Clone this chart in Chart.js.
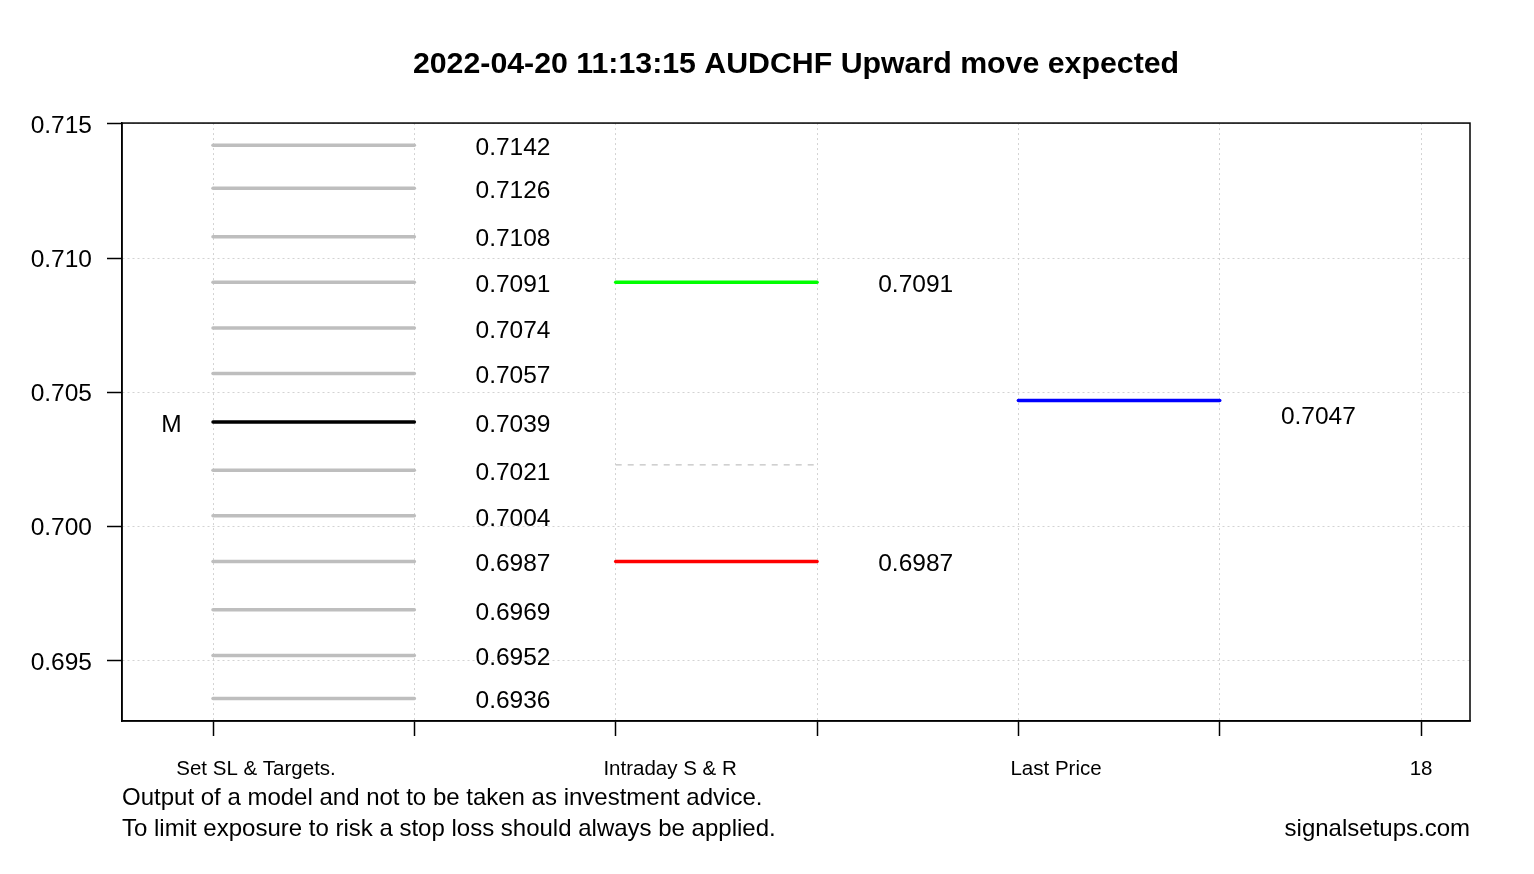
<!DOCTYPE html>
<html><head><meta charset="utf-8">
<script src="https://cdn.jsdelivr.net/npm/chart.js@4.4.1/dist/chart.umd.min.js"></script>
<style>html,body{margin:0;padding:0;background:#fff;} canvas{display:block;}</style>
</head><body>
<canvas id="c" width="1534" height="874"></canvas>
<script>
// ---------- data ----------
const titleText = "2022-04-20 11:13:15 AUDCHF Upward move expected";
const targetLevels = [0.7142, 0.7126, 0.7108, 0.7091, 0.7074, 0.7057, 0.7039, 0.7021, 0.7004, 0.6987, 0.6969, 0.6952, 0.6936];
const targetLabels = ["0.7142", "0.7126", "0.7108", "0.7091", "0.7074", "0.7057", "0.7039", "0.7021", "0.7004", "0.6987", "0.6969", "0.6952", "0.6936"];
const midLevelIndex = 6;
const midMarker = "M";
const resistanceLevel = 0.7091;
const supportLevel = 0.6987;
const pivotLevel = 0.7023;
const lastPrice = 0.7047;
const groupNames = ["Set SL & Targets.", "Intraday S & R", "Last Price", "18"];
const groupLabelAt = [1.2136, 3.27, 5.187, 7];
const groupStart = [1, 3, 5];
const xTickValues = [1, 2, 3, 4, 5, 6, 7];
const yTickValues = [0.695, 0.700, 0.705, 0.710, 0.715];
const xRange = [0.548, 7.243];
const yRange = [0.69276, 0.71503];
const footerLines = ["Output of a model and not to be taken as investment advice.", "To limit exposure to risk a stop loss should always be applied."];
const siteText = "signalsetups.com";

// ---------- styling ----------
const FONT = "'Liberation Sans', Arial, Helvetica, sans-serif";
Chart.defaults.font.family = FONT;
Chart.defaults.color = '#000';

function seg(x0, v, color, label, extra) {
  return Object.assign({
    data: [{x: x0, y: v}, {x: x0 + 1, y: v}],
    borderColor: color,
    backgroundColor: color,
    borderWidth: 3.5,
    borderCapStyle: 'round',
    pointRadius: 0,
    fill: false,
    tension: 0,
    xAxisID: 'x', yAxisID: 'y',
    valueLabel: label,
    labelShift: 3
  }, extra || {});
}

const datasets = [];
targetLevels.forEach((v, i) => {
  datasets.push(seg(groupStart[0], v, i === midLevelIndex ? '#000000' : '#bebebe', targetLabels[i],
    i === midLevelIndex ? {marker: midMarker} : {}));
});
datasets.push(seg(groupStart[1], resistanceLevel, '#00ff00', resistanceLevel.toFixed(4)));
datasets.push(seg(groupStart[1], supportLevel, '#ff0000', supportLevel.toFixed(4)));
datasets.push(seg(groupStart[1], pivotLevel, '#c4c4c4', null, {borderWidth: 1.3, borderDash: [6, 6], borderCapStyle: 'butt'}));
datasets.push(seg(groupStart[2], lastPrice, '#0000ff', lastPrice.toFixed(4), {labelShift: 17}));

const textPlugin = {
  id: 'textPlugin',
  afterDatasetsDraw(chart) {
    const ctx = chart.ctx, xs = chart.scales.x, ys = chart.scales.y, a = chart.chartArea;
    ctx.save();
    ctx.fillStyle = '#000';
    ctx.font = '24.5px ' + FONT;
    ctx.textAlign = 'center';
    ctx.textBaseline = 'middle';
    chart.data.datasets.forEach(ds => {
      const yv = ds.data[0].y;
      const py = ys.getPixelForValue(yv) + ds.labelShift;
      if (ds.valueLabel) {
        ctx.fillText(ds.valueLabel, xs.getPixelForValue(ds.data[1].x + 0.49), py);
      }
      if (ds.marker) {
        ctx.fillText(ds.marker, xs.getPixelForValue(ds.data[0].x - 0.206), py);
      }
    });
    // plot frame
    ctx.strokeStyle = '#000';
    ctx.lineWidth = 1.5;
    ctx.strokeRect(a.left, a.top, a.right - a.left, a.bottom - a.top);
    // footer
    ctx.font = '24px ' + FONT;
    ctx.textBaseline = 'alphabetic';
    ctx.textAlign = 'left';
    ctx.fillText(footerLines[0], a.left, 805);
    ctx.fillText(footerLines[1], a.left, 836);
    ctx.textAlign = 'right';
    ctx.fillText(siteText, a.right, 836);
    ctx.restore();
  }
};

const gridStyle = {color: '#d3d3d3', lineWidth: 1, tickColor: '#000', tickLength: 15, tickWidth: 1.5, drawTicks: true};

new Chart(document.getElementById('c'), {
  type: 'line',
  data: {datasets},
  options: {
    responsive: false,
    animation: false,
    devicePixelRatio: 1,
    layout: {padding: {left: 0, right: 64, top: 0, bottom: 0}},
    plugins: {
      legend: {display: false},
      tooltip: {enabled: false},
      title: {display: true, text: titleText, color: '#000', fullSize: false,
        font: {family: FONT, size: 30.3, weight: 'bold'},
        padding: {top: 46.7, bottom: 40}}
    },
    scales: {
      x: {
        type: 'linear', position: 'bottom', weight: 0,
        min: xRange[0], max: xRange[1],
        afterBuildTicks: s => { s.ticks = xTickValues.map(v => ({value: v})); },
        afterFit: s => { s.height = 15; },
        ticks: {display: false},
        grid: gridStyle,
        border: {display: true, color: '#000', width: 1.5, dash: [2, 3]}
      },
      xl: {
        type: 'linear', position: 'bottom', weight: 1,
        min: xRange[0], max: xRange[1],
        afterBuildTicks: s => { s.ticks = groupLabelAt.map(v => ({value: v})); },
        afterFit: s => { s.height = 874 - 721 - 15; },
        ticks: {autoSkip: false, maxRotation: 0, padding: 21.5, color: '#000',
          font: {family: FONT, size: 20.5},
          callback: (v, i) => groupNames[i]},
        grid: {display: false, drawTicks: false},
        border: {display: false}
      },
      y: {
        type: 'linear', position: 'left',
        min: yRange[0], max: yRange[1],
        afterBuildTicks: s => { s.ticks = yTickValues.map(v => ({value: v})); },
        afterFit: s => { s.width = 122; },
        ticks: {padding: 15, labelOffset: 2, color: '#000', font: {family: FONT, size: 24.5},
          callback: v => Number(v).toFixed(3)},
        grid: gridStyle,
        border: {display: true, color: '#000', width: 1.5, dash: [2, 3]}
      }
    }
  },
  plugins: [textPlugin]
});
</script>
</body></html>
